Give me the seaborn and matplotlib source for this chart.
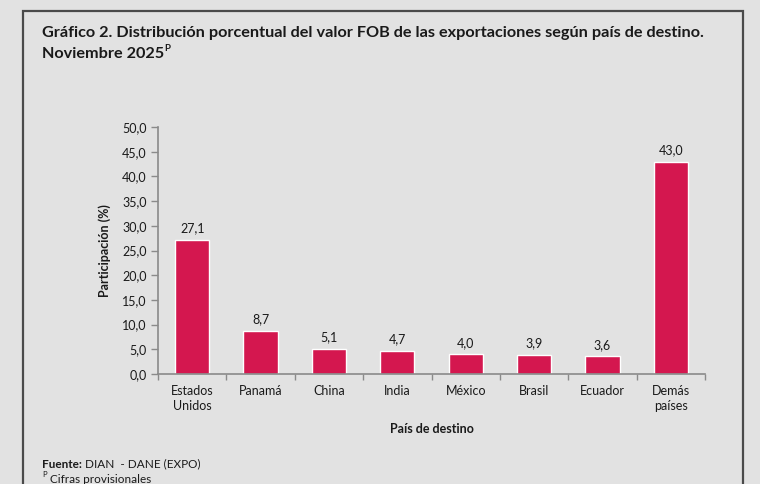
import matplotlib
matplotlib.use("Agg")
import matplotlib.pyplot as plt
import seaborn as sns
import pandas as pd
from matplotlib.patches import Rectangle

categories = ["Estados\nUnidos", "Panamá", "China", "India", "México", "Brasil", "Ecuador", "Demás\npaíses"]
values = [27.1, 8.7, 5.1, 4.7, 4.0, 3.9, 3.6, 43.0]
yticks = [0, 5, 10, 15, 20, 25, 30, 35, 40, 45, 50]

sns.set_theme(style="white")
plt.rcParams['font.family'] = ['Lato', 'DejaVu Sans']

BG = "#e2e2e2"
BAR = "#d4174f"
AX = "#8a8a8a"
TXT = "#1a1a1a"

W, H = 760, 484
fig = plt.figure(figsize=(7.6, 4.84), dpi=100, facecolor=BG)

# frame box
fig.patches.append(Rectangle((22.5 / W, -0.05), (743 - 22.5) / W, 1.05 - 11 / H,
                             transform=fig.transFigure, fill=False,
                             edgecolor="#4a4a4a", linewidth=1.6, zorder=0))

ax = fig.add_axes([158 / W, 1 - 374 / H, (705 - 158) / W, (374 - 127) / H])
ax.set_facecolor(BG)

df = pd.DataFrame({"pais": categories, "valor": values})
sns.barplot(data=df, x="pais", y="valor", color=BAR, saturation=1, width=0.5, ax=ax)

ax.bar_label(ax.containers[0], labels=[f"{v:.1f}".replace(".", ",") for v in values],
             padding=4, fontsize=9, color=TXT)

ax.set_ylim(0, 50)
ax.set_xlim(-0.5, len(categories) - 0.5)
ax.set_yticks(yticks)
ax.set_yticklabels([f"{v:.1f}".replace(".", ",") for v in yticks], fontsize=9, color=TXT)
ax.set_xticks(range(len(categories)))
ax.set_xticklabels(categories, fontsize=9, color=TXT, linespacing=1.3)
ax.tick_params(axis="x", length=0, pad=8)
ax.tick_params(axis="y", length=5, width=1, color=AX, direction="out", pad=3, left=True)
ax.set_xticks([i - 0.5 for i in range(len(categories) + 1)], minor=True)
ax.tick_params(axis="x", which="minor", length=4, width=1, color=AX, direction="out", bottom=True)

for s in ["top", "right"]:
    ax.spines[s].set_visible(False)
for s in ["left", "bottom"]:
    ax.spines[s].set_color(AX)
    ax.spines[s].set_linewidth(1.2)

ax.set_ylabel("Participación (%)", fontsize=9, fontweight="bold", color=TXT, labelpad=8)
ax.set_xlabel("País de destino", fontsize=9, fontweight="bold", color=TXT, labelpad=8)

# title
fig.text(42 / W, 1 - 33 / H, "Gráfico 2. Distribución porcentual del valor FOB de las exportaciones según país de destino.",
         fontsize=11.7, fontweight="bold", color=TXT, va="center", ha="left")
t2 = fig.text(42 / W, 1 - 54 / H, "Noviembre 2025",
              fontsize=11.7, fontweight="bold", color=TXT, va="center", ha="left")
plt.annotate("P", xy=(1, 0.55), xycoords=t2, fontsize=7, fontweight="bold", color=TXT,
             va="bottom", ha="left", annotation_clip=False)

# footer
f1 = fig.text(42 / W, 1 - 464 / H, "Fuente:", fontsize=8.5, fontweight="bold", color=TXT, va="center", ha="left")
plt.annotate(" DIAN  - DANE (EXPO)", xy=(1, 0.5), xycoords=f1, fontsize=8.5, color=TXT,
             va="center", ha="left", annotation_clip=False)
f2 = fig.text(42 / W, 1 - 478 / H, "P", fontsize=5.5, color=TXT, va="bottom", ha="left")
plt.annotate(" Cifras provisionales", xy=(1, 0), xycoords=f2, fontsize=8.5, color=TXT,
             va="top", ha="left", annotation_clip=False, xytext=(0, 3), textcoords="offset points")

fig.savefig("out.png", dpi=100, facecolor=BG)
